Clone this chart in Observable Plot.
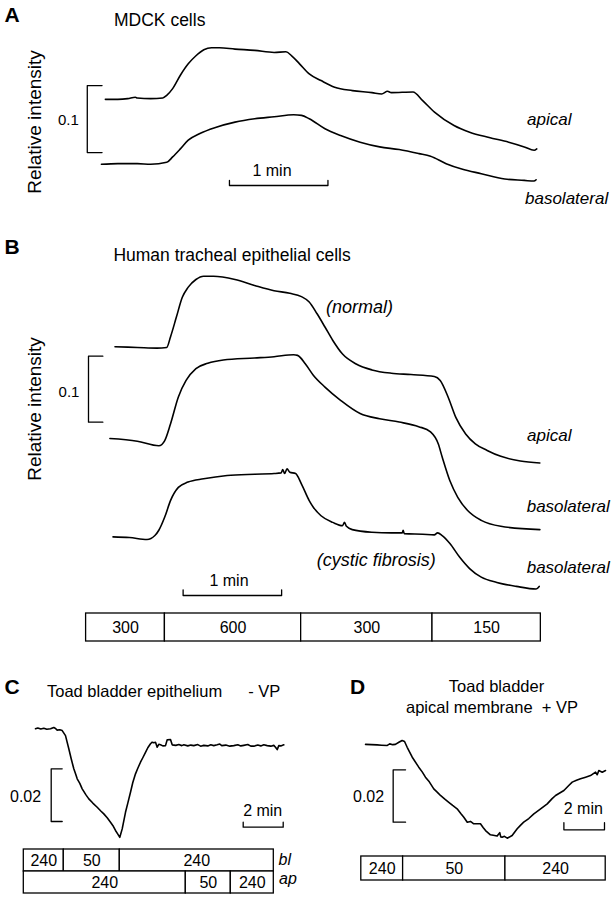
<!DOCTYPE html>
<html><head><meta charset="utf-8">
<script src="https://cdn.jsdelivr.net/npm/d3@7"></script>
<script src="https://cdn.jsdelivr.net/npm/@observablehq/plot@0.6"></script>
<style>
body{margin:0;background:#fff;}
#fig{position:relative;width:613px;height:900px;overflow:hidden;background:#fff;font-family:"Liberation Sans",Arial,Helvetica,sans-serif;color:#000;}
#fig .t{position:absolute;white-space:pre;line-height:1;}
</style></head><body><div id="fig"></div>
<script>
// ---------- DATA (time, relative intensity) ----------
// Panel A – MDCK cells (time in s)
const mdckApical = [[2.4,.151],[10,.151],[16,.152],[20.7,.154],[21.9,.153],[30,.152],[37.4,.153],[39.8,.157],[43.4,.167],[48.1,.187],[52.9,.204],[57.6,.216],[62.4,.225],[67.1,.228],[71.9,.228],[81.4,.226],[93.4,.224],[105.2,.221],[112.4,.222],[115.9,.216],[120.7,.204],[126.6,.189],[133.8,.179],[142.1,.169],[152.9,.164],[164.8,.161],[170.7,.159],[174.3,.163],[176.6,.161],[189.8,.162],[195.7,.149],[202.9,.132],[214.8,.112],[224.3,.102],[236.2,.094],[248.1,.087],[257.6,.080],[263.6,.075],[265.2,.077]];
const mdckBasolateral = [[0,.054],[10,.055],[21.9,.055],[30,.054],[39.8,.057],[43.4,.065],[48.1,.077],[52.9,.090],[60,.100],[69.5,.109],[81.4,.117],[93.4,.122],[105.2,.125],[117.1,.128],[121.9,.127],[126.6,.122],[136.2,.107],[145.7,.097],[157.6,.087],[169.5,.080],[181.4,.076],[193.4,.070],[200.5,.066],[210,.055],[219.5,.047],[231.4,.040],[245.7,.032],[257.6,.030],[263.5,.029],[264.8,.031]];
// Panel B – human tracheal epithelial cells (time in s)
const htNormalApical = [[17.6,.445],[31.2,.444],[43.1,.443],[49.1,.444],[51.4,.460],[55,.490],[58.6,.520],[62.1,.535],[66.9,.547],[71.6,.552],[77.6,.552],[90.7,.547],[102.6,.538],[114.5,.530],[124.1,.526],[131.2,.521],[135.9,.513],[140.7,.495],[145.5,.475],[150.2,.455],[156.2,.434],[164.5,.419],[174.1,.410],[185.9,.405],[197.9,.403],[212.1,.400],[215.7,.394],[220.5,.369],[225.2,.338],[231.2,.313],[237.1,.298],[244.3,.288],[252.6,.279],[264.5,.272],[276.4,.269]];
const htNormalBasolateral = [[14.5,.306],[31.2,.302],[44.3,.295],[47.9,.303],[51.4,.328],[56.2,.369],[60.9,.394],[66.9,.412],[74.1,.420],[83.6,.425],[102.6,.428],[114.5,.430],[126.4,.433],[128.8,.432],[133.6,.419],[138.4,.402],[145.5,.384],[155,.364],[166.9,.344],[178.8,.336],[190.7,.331],[202.6,.324],[209.8,.316],[214.5,.298],[216.9,.278],[221.6,.242],[226.4,.217],[232.4,.197],[240.7,.182],[252.6,.173],[276.4,.168]];
const htCFBasolateral = [[16.4,.157],[26.4,.156],[37.1,.153],[41.9,.159],[44.3,.167],[47.9,.187],[51.4,.212],[56.2,.232],[62.1,.240],[71.6,.245],[85.9,.250],[102.6,.252],[114.5,.253],[118.8,.254],[119.8,.259],[120.9,.253],[122.4,.260],[124.1,.255],[127.6,.253],[131.2,.237],[135.9,.212],[138.4,.202],[143.1,.189],[150.2,.179],[156.2,.174],[157.4,.179],[158.6,.173],[162.1,.168],[174.1,.164],[185.9,.163],[192.6,.163],[193.1,.167],[193.8,.162],[205,.161],[212.1,.160],[214.1,.163],[216.9,.159],[221.6,.147],[227.6,.126],[233.6,.109],[240.7,.096],[250.2,.088],[262.1,.082],[274.1,.078],[276,.082]];
// Panel C – toad bladder epithelium, -VP (time in min)
const toadMinusVP = [[0.585,.0462],[0.7,.0465],[0.85,.0461],[1.0,.0464],[1.15,.0460],[1.335,.0462],[1.5,.0467],[1.6,.0462],[1.67,.0457],[1.8,.0458],[1.92,.0455],[2.085,.0436],[2.25,.0386],[2.37,.0348],[2.5,.0310],[2.6,.0288],[2.67,.0272],[2.8,.0255],[2.92,.0234],[3.1,.0212],[3.25,.0196],[3.45,.0180],[3.67,.0164],[3.85,.0150],[4.0,.0139],[4.17,.0124],[4.335,.0107],[4.45,.0095],[4.585,.0076],[4.7,.0062],[4.8,.0050],[4.92,.0082],[5.085,.0145],[5.2,.0180],[5.335,.0221],[5.45,.0258],[5.585,.0291],[5.7,.0312],[5.835,.0335],[5.95,.0352],[6.085,.0372],[6.2,.0390],[6.335,.0405],[6.42,.0411],[6.5,.0409],[6.585,.0411],[6.67,.0392],[6.75,.0403],[6.835,.0401],[6.95,.0397],[7.085,.0398],[7.17,.0420],[7.335,.0421],[7.42,.0401],[7.6,.0399],[7.75,.0402],[7.9,.0398],[8.0,.0401],[8.2,.0397],[8.35,.0400],[8.5,.0398],[8.7,.0402],[8.84,.0396],[9.0,.0399],[9.2,.0397],[9.35,.0401],[9.5,.0398],[9.67,.0401],[9.8,.0404],[9.9,.0398],[10.1,.0400],[10.3,.0396],[10.5,.0398],[10.7,.0401],[10.85,.0397],[11.0,.0399],[11.2,.0402],[11.35,.0396],[11.5,.0396],[11.7,.0400],[11.85,.0397],[12.0,.0401],[12.17,.0398],[12.35,.0396],[12.5,.0399],[12.585,.0392],[12.67,.0383],[12.75,.0398],[12.85,.0397],[13.0,.0401]];
// Panel D – toad bladder apical membrane, +VP (time in min)
const toadPlusVP = [[0.21,.0405],[0.5,.0404],[0.78,.0403],[1.0,.0402],[1.28,.0401],[1.40,.0407],[1.55,.0404],[1.68,.0405],[1.85,.0413],[2.01,.0420],[2.13,.0416],[2.26,.0394],[2.51,.0356],[2.83,.0318],[3.0,.0300],[3.16,.0280],[3.35,.0262],[3.57,.0235],[3.75,.0222],[3.90,.0210],[4.1,.0197],[4.31,.0184],[4.5,.0172],[4.72,.0159],[4.9,.0141],[5.05,.0127],[5.22,.0108],[5.38,.0111],[5.54,.0102],[5.87,.0102],[6.0,.0088],[6.12,.0076],[6.36,.0060],[6.5,.0058],[6.69,.0055],[6.82,.0068],[6.87,.0052],[6.94,.0051],[7.05,.0054],[7.19,.0047],[7.43,.0057],[7.68,.0083],[7.85,.0097],[8.0,.0108],[8.25,.0122],[8.5,.0140],[8.8,.0157],[9.16,.0178],[9.4,.0198],[9.57,.0210],[9.98,.0229],[10.22,.0248],[10.39,.0261],[10.6,.0268],[10.8,.0274],[11.05,.0280],[11.29,.0286],[11.54,.0299],[11.62,.0289],[11.7,.0305],[11.87,.0299],[12.03,.0305]];
// Solution bars: boundaries (time) and labels (concentrations)
const barEdgesB = [0, 48, 131, 211, 277];
const barLabelsB = ["300", "600", "300", "150"];
const barEdgesCbl = [0, 2, 4.8, 12.5];
const barLabelsCbl = ["240", "50", "240"];
const barEdgesCap = [0, 8.1, 10.35, 12.5];
const barLabelsCap = ["240", "50", "240"];
const barEdgesD = [0, 2.06, 7.1, 12.04];
const barLabelsD = ["240", "50", "240"];
// Scale bars: [time length, intensity length] and labels
const scaleLabels = {A: ["1 min", "0.1"], B: ["1 min", "0.1"], C: ["2 min", "0.02"], D: ["2 min", "0.02"]};

// ---------- HELPERS ----------
const fig = document.getElementById("fig");
const FONT = "Liberation Sans, Arial, Helvetica, sans-serif";
const pts = a => a.map(([t, v]) => ({t, v}));
const segs = (edges, labels, row) => labels.map((label, i) => ({from: edges[i], to: edges[i + 1], mid: (edges[i] + edges[i + 1]) / 2, label, row}));
function put(el, left, top) { el.style.position = "absolute"; el.style.left = left + "px"; el.style.top = top + "px"; fig.appendChild(el); }
function txt(s, x, baseline, size, o = {}) {
  const d = document.createElement("div");
  d.className = "t"; d.textContent = s;
  d.style.fontSize = size + "px";
  if (o.bold) d.style.fontWeight = "bold";
  if (o.italic) d.style.fontStyle = "italic";
  d.style.top = (baseline - 0.8465 * size) + "px";
  d.style.left = x + "px";
  if (o.center) d.style.transform = "translateX(-50%)";
  fig.appendChild(d);
  return d;
}
function vtxt(s, cx, cy, size) {
  const d = document.createElement("div");
  d.className = "t"; d.textContent = s; d.style.fontSize = size + "px";
  d.style.left = cx + "px"; d.style.top = cy + "px";
  d.style.transform = "translate(-50%,-50%) rotate(-90deg)";
  fig.appendChild(d);
}
// bracket-shaped scale bars (vertical: ticks pointing right; horizontal: ticks pointing up)
const vBracket = (x, xTick, lo, hi) => [{t: xTick, v: hi}, {t: x, v: hi}, {t: x, v: lo}, {t: xTick, v: lo}];
const hBracket = (t0, t1, v, vTick) => [{t: t0, v: vTick}, {t: t0, v}, {t: t1, v}, {t: t1, v: vTick}];
const traceStyle = {x: "t", y: "v", stroke: "#000", strokeWidth: 1.6, strokeLinejoin: "round"};
const barStyle = {x: "t", y: "v", stroke: "#000", strokeWidth: 1.3, curve: "linear"};
const base = {margin: 0, style: {background: "transparent", overflow: "visible", fontFamily: FONT}};

// ---------- PANEL A ----------
put(Plot.plot({
  ...base, width: 613, height: 215,
  x: {domain: [0, 60], range: [100.9, 199.4], axis: null},
  y: {domain: [0, 0.1], range: [200, 133], axis: null},
  marks: [
    Plot.line(pts(mdckApical), {...traceStyle, curve: "monotone-x"}),
    Plot.line(pts(mdckBasolateral), {...traceStyle, curve: "monotone-x"}),
    Plot.line(vBracket(-8.6, 0.4, 0.0716, 0.1716), barStyle),
    Plot.line(hBracket(78, 138, 0.0224, 0.0299), barStyle)
  ]
}), 0, 0);
txt("A", 4.5, 21.7, 21, {bold: true});
txt("MDCK cells", 114, 27, 17.5);
vtxt("Relative intensity", 33.5, 121.5, 19);
txt(scaleLabels.A[1], 58, 124.4, 15);
txt(scaleLabels.A[0], 272, 177, 16, {center: true});
txt("apical", 527, 125, 17, {italic: true});
txt("basolateral", 525, 204, 17, {italic: true});

// ---------- PANEL B ----------
put(Plot.plot({
  ...base, width: 613, height: 390,
  x: {domain: [0, 60], range: [85.6, 184.1], axis: null},
  y: {domain: [0, 0.1], range: [425, 359], axis: null},
  marks: [
    Plot.line(pts(htNormalApical), {...traceStyle, curve: "monotone-x"}),
    Plot.line(pts(htNormalBasolateral), {...traceStyle, curve: "monotone-x"}),
    Plot.line(pts(htCFBasolateral), {...traceStyle, curve: "monotone-x"}),
    Plot.line(vBracket(1.46, 10.2, 0.3308, 0.4308), barStyle),
    Plot.line(hBracket(59.1, 119.1, 0.0682, 0.0768), barStyle)
  ]
}), 0, 215);
put(Plot.plot({
  ...base, width: 613, height: 31,
  x: {domain: [0, 60], range: [85.6, 184.1], axis: null},
  y: {type: "band", domain: ["s"], range: [1, 29], padding: 0, axis: null},
  marks: [
    Plot.barX(segs(barEdgesB, barLabelsB, "s"), {x1: "from", x2: "to", y: "row", fill: "#fff", stroke: "#000", strokeWidth: 1.3}),
    Plot.text(segs(barEdgesB, barLabelsB, "s"), {x: "mid", y: "row", text: "label", fontSize: 16, fill: "#000"})
  ]
}), 0, 612);
txt("B", 4.5, 253.3, 21, {bold: true});
txt("Human tracheal epithelial cells", 113.4, 261.7, 17.5);
vtxt("Relative intensity", 33.5, 408.5, 19);
txt(scaleLabels.B[1], 58.6, 396.4, 15);
txt("(normal)", 326, 313.5, 18, {italic: true});
txt("apical", 527, 441, 17, {italic: true});
txt("basolateral", 526.7, 512, 17, {italic: true});
txt("(cystic fibrosis)", 316.7, 566.5, 18, {italic: true});
txt("basolateral", 526.7, 573, 17, {italic: true});
txt(scaleLabels.B[0], 229, 586.7, 16, {center: true});

// ---------- PANEL C ----------
put(Plot.plot({
  ...base, width: 300, height: 195,
  x: {domain: [0, 1], range: [23.3, 43.3], axis: null},
  y: {domain: [0, 0.01], range: [200, 173.65], axis: null},
  marks: [
    Plot.line(pts(toadMinusVP), {...traceStyle, curve: "linear"}),
    Plot.line(vBracket(1.37, 1.92, 0.0110, 0.0310), barStyle),
    Plot.line(hBracket(10.97, 12.97, 0.00884, 0.01074), barStyle)
  ]
}), 0, 650);
put(Plot.plot({
  ...base, width: 300, height: 47,
  x: {domain: [0, 1], range: [23.3, 43.3], axis: null},
  y: {type: "band", domain: ["bl", "ap"], range: [1.3, 45.3], padding: 0, axis: null},
  marks: [
    Plot.barX([...segs(barEdgesCbl, barLabelsCbl, "bl"), ...segs(barEdgesCap, barLabelsCap, "ap")], {x1: "from", x2: "to", y: "row", fill: "#fff", stroke: "#000", strokeWidth: 1.3}),
    Plot.text([...segs(barEdgesCbl, barLabelsCbl, "bl"), ...segs(barEdgesCap, barLabelsCap, "ap")], {x: "mid", y: "row", text: "label", fontSize: 16, fill: "#000"})
  ]
}), 0, 848);
txt("C", 4.5, 693.3, 21, {bold: true});
(function () {
  const d = txt("Toad bladder epithelium", 47, 697, 16.5);
  const gap = document.createElement("span");
  gap.textContent = " ";
  gap.style.display = "inline-block"; gap.style.width = "26px";
  d.appendChild(gap);
  d.appendChild(document.createTextNode("- VP"));
})();
txt(scaleLabels.C[1], 10, 802.7, 16);
txt(scaleLabels.C[0], 262.7, 816.7, 16, {center: true});
txt("bl", 278.5, 865.8, 16, {italic: true});
txt("ap", 279, 884.5, 16, {italic: true});

// ---------- PANEL D ----------
put(Plot.plot({
  ...base, width: 313, height: 195,
  x: {domain: [0, 1], range: [60.8, 81.1], axis: null},
  y: {domain: [0, 0.01], range: [200, 173.8], axis: null},
  marks: [
    Plot.line(pts(toadPlusVP), {...traceStyle, curve: "linear"}),
    Plot.line(vBracket(1.57, 2.18, 0.0108, 0.0308), barStyle),
    Plot.line(hBracket(9.98, 11.98, 0.0079, 0.0106), barStyle)
  ]
}), 300, 650);
put(Plot.plot({
  ...base, width: 313, height: 27,
  x: {domain: [0, 1], range: [60.8, 81.1], axis: null},
  y: {type: "band", domain: ["s"], range: [1, 25], padding: 0, axis: null},
  marks: [
    Plot.barX(segs(barEdgesD, barLabelsD, "s"), {x1: "from", x2: "to", y: "row", fill: "#fff", stroke: "#000", strokeWidth: 1.3}),
    Plot.text(segs(barEdgesD, barLabelsD, "s"), {x: "mid", y: "row", text: "label", fontSize: 16, fill: "#000"})
  ]
}), 300, 855);
txt("D", 350, 693.3, 21, {bold: true});
txt("Toad bladder", 496.5, 692, 16.5, {center: true});
txt("apical membrane  + VP", 492, 712.5, 16.5, {center: true});
txt(scaleLabels.D[1], 353, 802.4, 16);
txt(scaleLabels.D[0], 583.3, 815, 16, {center: true});
</script></body></html>
